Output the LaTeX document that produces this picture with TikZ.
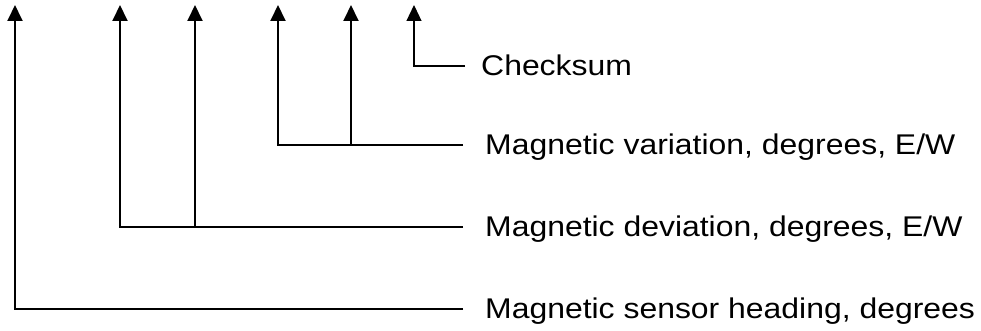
\documentclass[tikz,border=0pt]{standalone}
\usepackage{fontspec}
\newfontfamily\labelfont[FakeStretch=1.12]{Liberation Sans}
\usetikzlibrary{arrows.meta, positioning}

\begin{document}
\begin{tikzpicture}[x=1pt, y=-1pt,
    field/.style={line width=1.9pt, -{Triangle[length=16pt, width=15pt]}},
    fieldlabel/.style={anchor=base west, inner sep=0pt,
                       font=\labelfont\fontsize{28.5}{34}\selectfont}]
    \useasboundingbox (0,0) rectangle (981,331);

    % tips of the arrows
    \coordinate (t1) at (15, 5);
    \coordinate (t2) at (120, 5);
    \coordinate (t3) at (195, 5);
    \coordinate (t4) at (278, 5);
    \coordinate (t5) at (351, 5);
    \coordinate (t6) at (414, 5);

    % ends of the leader lines
    \coordinate (c0) at (465, 66);
    \coordinate (v0) at (463, 145);
    \coordinate (d0) at (463, 227);
    \coordinate (h0) at (463, 309);

    \node[fieldlabel] (chk) at ([xshift=16pt, yshift=-9.5pt]c0) {Checksum};
    \node[fieldlabel] (var) at ([xshift=22pt, yshift=-9pt]v0) {Magnetic variation, degrees, E/W};
    \node[fieldlabel] (dev) at ([xshift=22pt, yshift=-9pt]d0) {Magnetic deviation, degrees, E/W};
    \node[fieldlabel] (hdg) at ([xshift=22pt, yshift=-9pt]h0) {Magnetic sensor heading, degrees};

    \draw[field] (h0) -| (t1);
    \draw[field] (d0) -| (t2);
    \draw[field] (t3 |- d0) -- (t3);
    \draw[field] (v0) -| (t4);
    \draw[field] (t5 |- v0) -- (t5);
    \draw[field, line width=1.2pt] (c0) -| (t6);
\end{tikzpicture}
\end{document}
